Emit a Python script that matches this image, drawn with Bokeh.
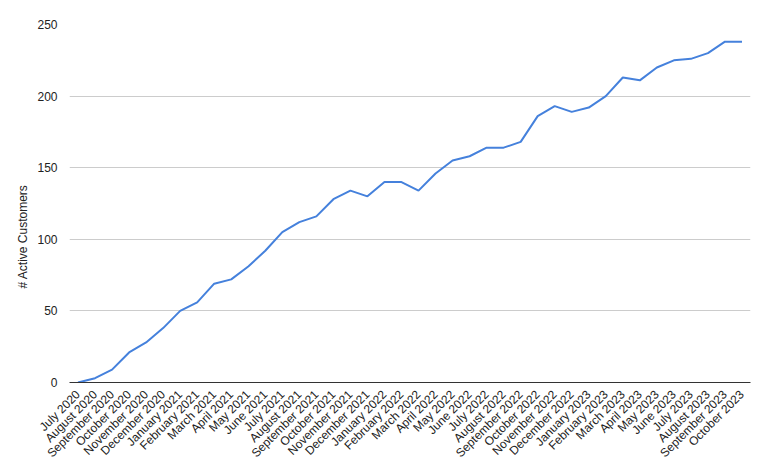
import math
from bokeh.plotting import figure
from bokeh.models import ColumnDataSource, FactorRange, Range1d, SingleIntervalTicker, Title
from bokeh.embed import file_html
from bokeh.resources import INLINE

months = [
    "July 2020", "August 2020", "September 2020", "October 2020", "November 2020", "December 2020",
    "January 2021", "February 2021", "March 2021", "April 2021", "May 2021", "June 2021",
    "July 2021", "August 2021", "September 2021", "October 2021", "November 2021", "December 2021",
    "January 2022", "February 2022", "March 2022", "April 2022", "May 2022", "June 2022",
    "July 2022", "August 2022", "September 2022", "October 2022", "November 2022", "December 2022",
    "January 2023", "February 2023", "March 2023", "April 2023", "May 2023", "June 2023",
    "July 2023", "August 2023", "September 2023", "October 2023",
]
active_customers = [
    0, 3, 9, 21, 28, 38,
    50, 56, 69, 72, 81, 92,
    105, 112, 116, 128, 134, 130,
    140, 140, 134, 146, 155, 158,
    164, 164, 168, 186, 193, 189,
    192, 200, 213, 211, 220, 225,
    226, 230, 238, 238,
]
y_title = "# Active Customers"

source = ColumnDataSource(data=dict(month=months, value=active_customers))

p = figure(
    width=752, height=468,
    x_range=FactorRange(*months, range_padding=0),
    y_range=Range1d(0, 250),
    output_backend="svg", toolbar_location=None,
    min_border_left=59, min_border_right=10, min_border_top=24, min_border_bottom=84,
)
p.margin = (0, 0, 0, 8)
p.outline_line_color = None
p.background_fill_color = "white"
p.border_fill_color = "white"

p.line("month", "value", source=source, line_color="#4581dc", line_width=2)

font = "Liberation Sans"
# y axis
p.yaxis.ticker = SingleIntervalTicker(interval=50)
p.yaxis.axis_line_color = None
p.yaxis.major_tick_line_color = None
p.yaxis.minor_tick_line_color = None
p.yaxis.major_label_text_font = font
p.yaxis.major_label_text_font_size = "12px"
p.yaxis.major_label_text_color = "#222222"
p.yaxis.major_label_standoff = 6

# y title, placed lower like the reference
p.add_layout(Title(
    text=y_title, align="left", offset=94,
    text_font=font, text_font_size="12px", text_font_style="normal",
    text_color="#222222", standoff=10,
), "left")

# x axis
p.xaxis.axis_line_color = "#333333"
p.xaxis.axis_line_width = 1
p.xaxis.major_tick_line_color = None
p.xaxis.minor_tick_line_color = None
p.xaxis.major_label_orientation = math.pi / 4
p.xaxis.major_label_text_font = font
p.xaxis.major_label_text_font_size = "12px"
p.xaxis.major_label_text_color = "#222222"
p.xaxis.major_label_standoff = 4

p.xgrid.grid_line_color = None
p.ygrid.grid_line_color = "#cccccc"
p.ygrid.grid_line_width = 1

open("out.html", "w").write(file_html(p, INLINE))
